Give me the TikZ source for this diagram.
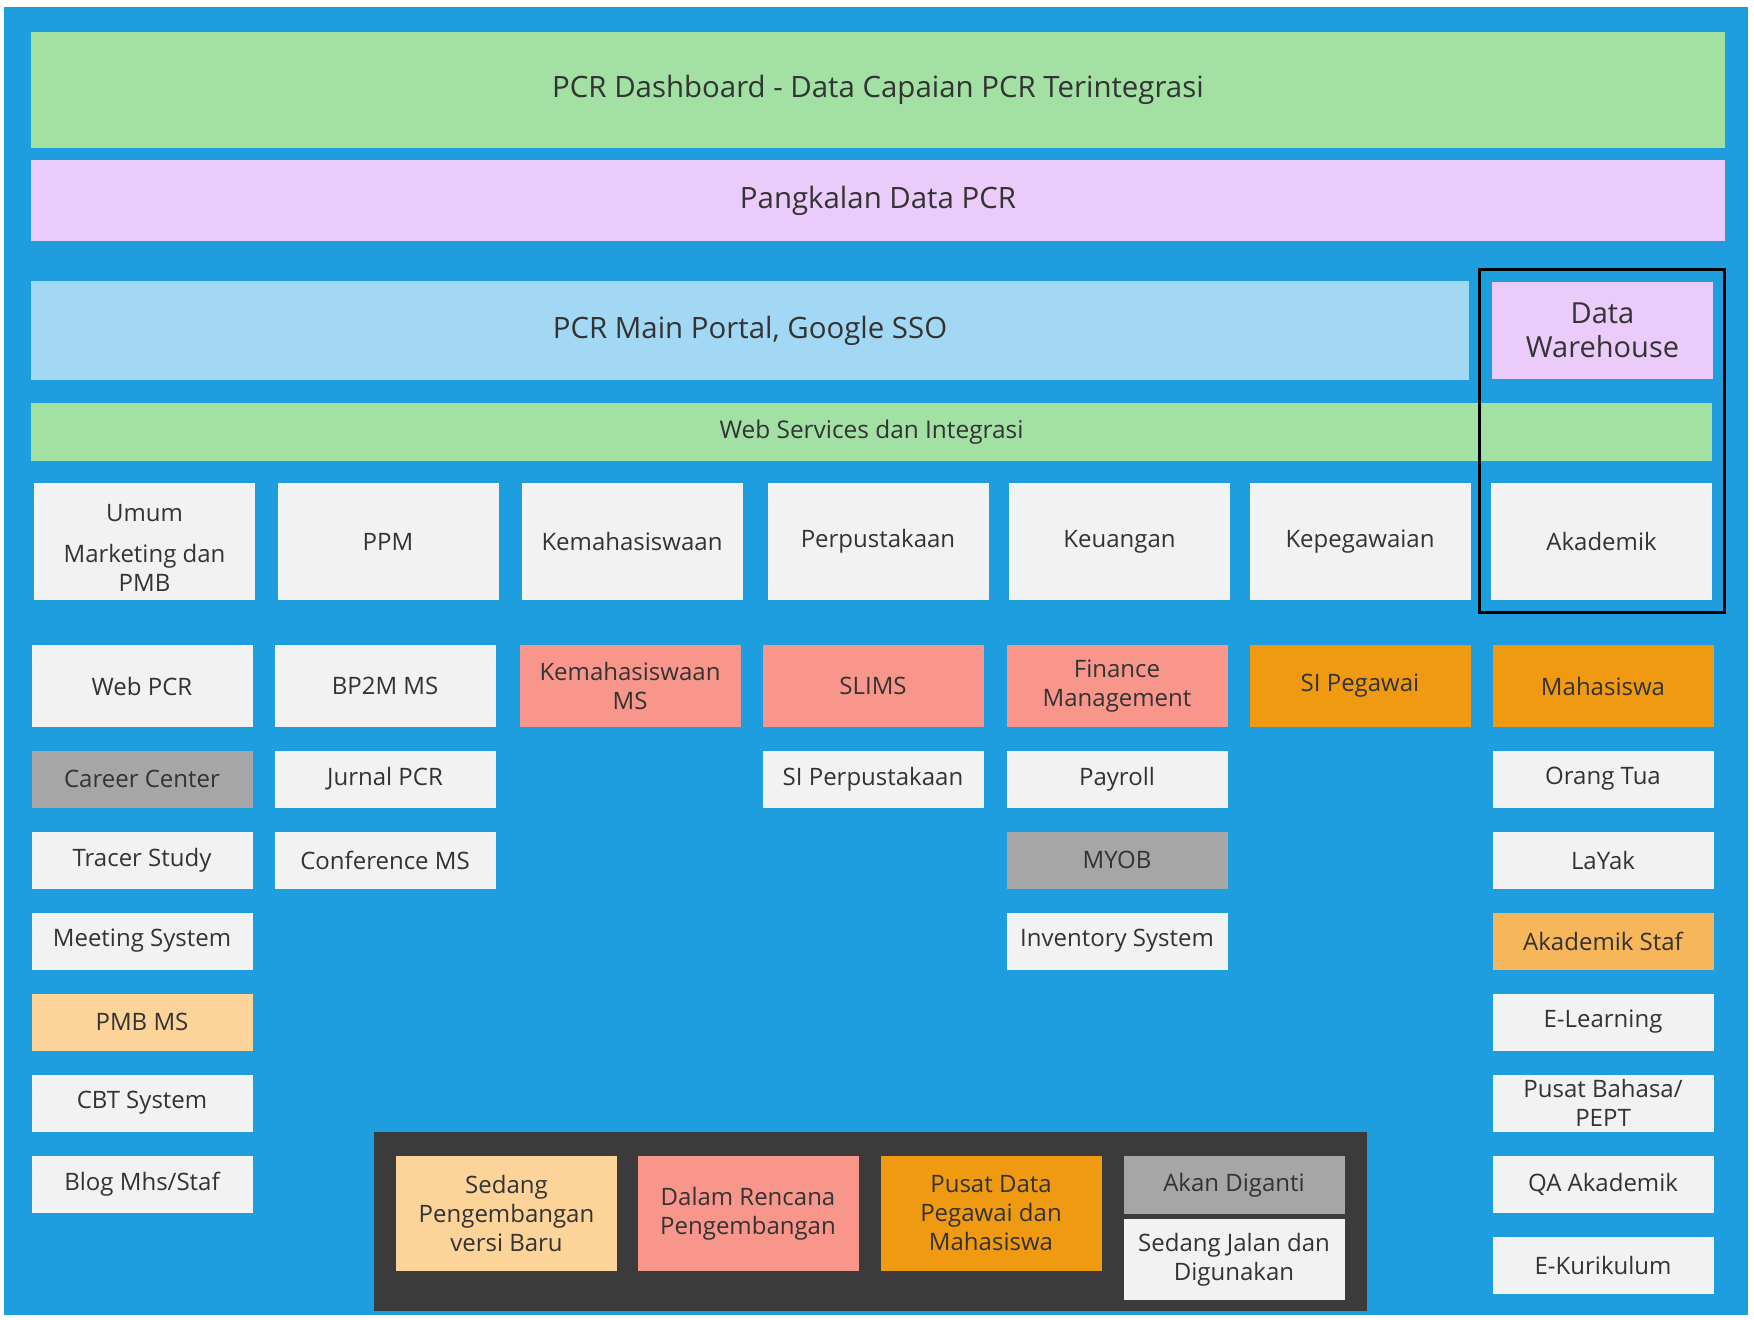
\documentclass[tikz,border=0pt]{standalone}
\usepackage{fontspec}
\setmainfont{Open Sans}
\usepackage{tikz}
\usetikzlibrary{positioning,fit}

\definecolor{bgblue}{RGB}{30,158,222}
\definecolor{lgreen}{RGB}{162,224,164}
\definecolor{lpurple}{RGB}{235,203,250}
\definecolor{lblue}{RGB}{163,216,244}
\definecolor{offwhite}{RGB}{242,242,242}
\definecolor{salmon}{RGB}{249,150,140}
\definecolor{dorange}{RGB}{240,154,18}
\definecolor{morange}{RGB}{247,182,90}
\definecolor{peach}{RGB}{252,212,154}
\definecolor{midgray}{RGB}{166,166,166}
\definecolor{legendbg}{RGB}{59,59,59}
\definecolor{txt}{RGB}{51,51,51}

\tikzstyle{box}   = [rectangle, inner sep=1pt, align=center, text=txt, font=\fontsize{12}{14.5}\selectfont]
\tikzstyle{layer} = [box, font=\fontsize{14.7}{17}\selectfont]
\tikzstyle{sys}   = [box, minimum width=110.5pt, minimum height=28.5pt, fill=offwhite]
\tikzstyle{systop}= [sys, minimum height=41pt]
\tikzstyle{head}  = [sys, minimum height=58.5pt]
\tikzstyle{frame} = [draw=black, line width=1.2pt, inner xsep=5.5pt, inner ysep=6pt]

\begin{document}
\begin{tikzpicture}[x=0.5pt,y=-0.5pt]
        \useasboundingbox (0,0) rectangle (1754,1319);
        \fill[bgblue] (4,7) rectangle (1748,1315);

        % layers
        \node[layer, fill=lgreen, minimum width=847pt, minimum height=58pt] (dashboard) at (878,90) {PCR Dashboard - Data Capaian PCR Terintegrasi};
        \node[layer, fill=lpurple, minimum width=847pt, minimum height=40.5pt] (pangkalan) at (878,200.5) {Pangkalan Data PCR};
        \node[layer, fill=lblue, minimum width=719pt, minimum height=49.5pt] (portal) at (750,330.5) {PCR Main Portal, Google SSO};
        \node[layer, fill=lpurple, minimum width=110.5pt, minimum height=48.5pt, font=\fontsize{14.5}{17}\selectfont] (dw) at (1602.5,330.5) {Data\\Warehouse};
        \node[box, fill=lgreen, minimum width=840.5pt, minimum height=29pt, font=\fontsize{12.2}{14}\selectfont] (websvc) at (871.5,432) {Web Services dan Integrasi};

        % units
        \node[head] (umum) at (144.5,541.5) {\rule{0pt}{15pt}Umum\\[6pt]Marketing dan\\PMB};
        \node[head] (ppm) at (388,541.5) {PPM};
        \node[head] (kemhs) at (632,541.5) {Kemahasiswaan};
        \node[head] (pustaka) at (878,541.5) {Perpustakaan};
        \node[head] (keu) at (1119.5,541.5) {Keuangan};
        \node[head] (pegawai) at (1360,541.5) {Kepegawaian};
        \node[head] (akademik) at (1601.5,541.5) {Akademik};
        \node[frame, fit=(dw)(akademik)] (dwframe) {};

        % column 1
        \node[systop] (webpcr) at (142,686) {Web PCR};
        \node[sys, fill=midgray] (career) at (142,779) {Career Center};
        \node[sys] (tracer) at (142,860) {Tracer Study};
        \node[sys] (meeting) at (142,941) {Meeting System};
        \node[sys, fill=peach] (pmbms) at (142,1022) {PMB MS};
        \node[sys] (cbt) at (142,1103) {CBT System};
        \node[sys] (blog) at (142,1184) {Blog Mhs/Staf};

        % column 2
        \node[systop] (bp2m) at (385,686) {BP2M MS};
        \node[sys] (jurnal) at (385,779) {Jurnal PCR};
        \node[sys] (conf) at (385,860) {Conference MS};

        % column 3
        \node[systop, fill=salmon] (kemhsms) at (630,686) {Kemahasiswaan\\MS};

        % column 4
        \node[systop, fill=salmon] (slims) at (873,686) {SLIMS};
        \node[sys] (sipustaka) at (873,779) {SI Perpustakaan};

        % column 5
        \node[systop, fill=salmon] (finance) at (1117,686) {Finance\\Management};
        \node[sys] (payroll) at (1117,779) {Payroll};
        \node[sys, fill=midgray] (myob) at (1117,860) {MYOB};
        \node[sys] (inventory) at (1117,941) {Inventory System};

        % column 6
        \node[systop, fill=dorange] (sipegawai) at (1360,686) {SI Pegawai};

        % column 7
        \node[systop, fill=dorange] (mhs) at (1603,686) {Mahasiswa};
        \node[sys] (ortu) at (1603,779) {Orang Tua};
        \node[sys] (layak) at (1603,860) {LaYak};
        \node[sys, fill=morange] (akstaf) at (1603,941) {Akademik Staf};
        \node[sys] (elearn) at (1603,1022) {E-Learning};
        \node[sys] (bahasa) at (1603,1103) {Pusat Bahasa/\\PEPT};
        \node[sys] (qa) at (1603,1184) {QA Akademik};
        \node[sys] (ekur) at (1603,1265) {E-Kurikulum};

        % legend
        \node[fill=legendbg, minimum width=496.5pt, minimum height=89.5pt, inner sep=0pt] (legend) at (870.5,1221.5) {};
        \node[sys, fill=peach, minimum height=57.5pt] (lgbaru) at (506.5,1213.5) {Sedang\\Pengembangan\\versi Baru};
        \node[sys, fill=salmon, minimum height=57.5pt] (lgrencana) at (748,1213.5) {Dalam Rencana\\Pengembangan};
        \node[sys, fill=dorange, minimum height=57.5pt] (lgpusat) at (991,1213.5) {Pusat Data\\Pegawai dan\\Mahasiswa};
        \node[sys, fill=midgray, minimum height=29pt] (lgganti) at (1234,1185) {Akan Diganti};
        \node[sys, minimum height=40.5pt] (lgjalan) at (1234,1259.5) {Sedang Jalan dan\\Digunakan};
\end{tikzpicture}
\end{document}
